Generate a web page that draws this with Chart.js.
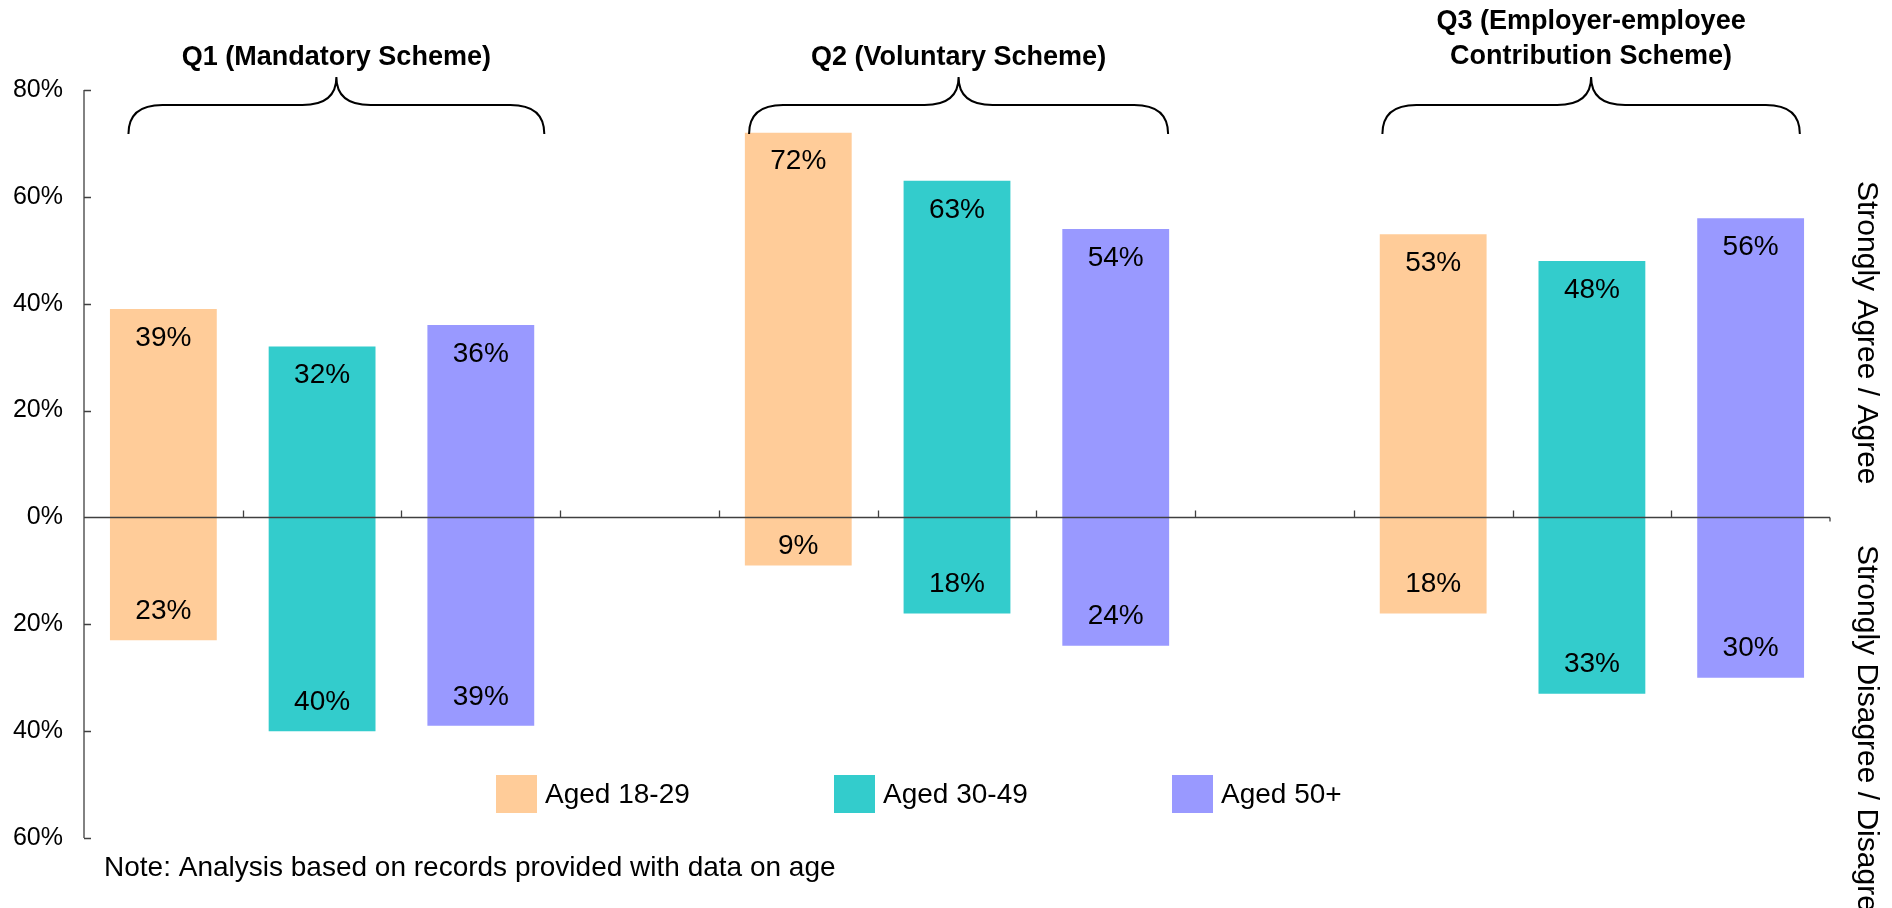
<!DOCTYPE html>
<html lang="en">

<head>
    <meta charset="UTF-8">
    <title>Agreement by Age Group</title>
    <script src="https://cdn.jsdelivr.net/npm/chart.js"></script>
    <style>
        body {
            margin: 0;
            background: #ffffff;
        }

        .chart-container {
            width: 1892px;
            height: 908px;
        }
    </style>
</head>

<body>
    <div class="chart-container">
        <canvas id="ageChart"></canvas>
    </div>

    <script>
        // data
        const questions = ['Q1 (Mandatory Scheme)', 'Q2 (Voluntary Scheme)', ['Q3 (Employer-employee', 'Contribution Scheme)']];
        const ageGroups = ['Aged 18-29', 'Aged 30-49', 'Aged 50+'];
        const agree1829 = [39, 72, 53];
        const agree3049 = [32, 63, 48];
        const agree50 = [36, 54, 56];
        const disagree1829 = [23, 9, 18];
        const disagree3049 = [40, 18, 33];
        const disagree50 = [39, 24, 30];
        const yMin = -60;
        const yMax = 80;
        const yStep = 20;
        const sideTitles = ['Strongly Agree / Agree', 'Strongly Disagree / Disagree'];
        const note = 'Note: Analysis based on records provided with data on age';

        const colors = ['#FFCC99', '#33CCCC', '#9999FF'];
        const agreeSets = [agree1829, agree3049, agree50];
        const disagreeSets = [disagree1829, disagree3049, disagree50];

        // 3 questions x 3 age groups, with an empty slot between questions
        const slots = [];
        questions.forEach(function (q, g) {
            ageGroups.forEach(function (a) { slots.push(a); });
            if (g < questions.length - 1) slots.push('');
        });

        const datasets = ageGroups.map(function (age, a) {
            const data = slots.map(function () { return null; });
            questions.forEach(function (q, g) {
                data[g * 4 + a] = [-disagreeSets[a][g], agreeSets[a][g]];
            });
            return {
                label: age,
                data: data,
                backgroundColor: colors[a],
                borderWidth: 0,
                grouped: false,
                categoryPercentage: 0.673,
                barPercentage: 1
            };
        });

        const FONT = '"Liberation Sans", Arial, sans-serif';

        function drawBrace(ctx, xl, xr, xc) {
            const yEnd = 134, yLine = 105, yTip = 77, r = 34;
            ctx.beginPath();
            ctx.moveTo(xl, yEnd);
            ctx.quadraticCurveTo(xl, yLine, xl + r, yLine);
            ctx.lineTo(xc - r, yLine);
            ctx.quadraticCurveTo(xc, yLine, xc, yTip);
            ctx.quadraticCurveTo(xc, yLine, xc + r, yLine);
            ctx.lineTo(xr - r, yLine);
            ctx.quadraticCurveTo(xr, yLine, xr, yEnd);
            ctx.stroke();
        }

        const extras = {
            id: 'extras',
            afterDatasetsDraw(chart) {
                const ctx = chart.ctx;
                const area = chart.chartArea;
                const x = chart.scales.x;
                const y = chart.scales.y;
                const y0 = y.getPixelForValue(0);
                const catW = (area.right - area.left) / slots.length;

                ctx.save();
                // axes
                ctx.strokeStyle = '#404040';
                ctx.lineWidth = 1.3;
                ctx.beginPath();
                ctx.moveTo(area.left, y.getPixelForValue(yMax));
                ctx.lineTo(area.left, y.getPixelForValue(yMin));
                for (let v = yMin; v <= yMax; v += yStep) {
                    const py = Math.round(y.getPixelForValue(v)) + 0.5;
                    ctx.moveTo(area.left, py);
                    ctx.lineTo(area.left + 7, py);
                }
                ctx.moveTo(area.left, Math.round(y0) + 0.5);
                ctx.lineTo(area.right, Math.round(y0) + 0.5);
                for (let i = 1; i < slots.length; i++) {
                    const px = Math.round(area.left + i * catW) + 0.5;
                    ctx.moveTo(px, y0);
                    ctx.lineTo(px, y0 - 7);
                }
                ctx.moveTo(area.right, y0);
                ctx.lineTo(area.right, y0 + 4);
                ctx.stroke();

                // value labels inside the bar ends
                ctx.fillStyle = '#000';
                ctx.font = '28px ' + FONT;
                ctx.textAlign = 'center';
                ctx.textBaseline = 'middle';
                chart.data.datasets.forEach(function (ds, di) {
                    chart.getDatasetMeta(di).data.forEach(function (bar, i) {
                        const v = ds.data[i];
                        if (!v) return;
                        const top = y.getPixelForValue(v[1]);
                        const bottom = y.getPixelForValue(v[0]);
                        const offTop = Math.min(29, (y0 - top) / 2 - 5);
                        const offBottom = Math.min(29, (bottom - y0) / 2 - 5);
                        ctx.fillText(v[1] + '%', bar.x, top + offTop);
                        ctx.fillText(-v[0] + '%', bar.x, bottom - offBottom);
                    });
                });

                // question braces and titles
                const braceSpans = [[-0.22, 2.4], [3.69, 6.33], [7.68, 10.31]];
                ctx.strokeStyle = '#000';
                ctx.lineWidth = 2;
                ctx.font = 'bold 27px ' + FONT;
                questions.forEach(function (q, g) {
                    const xl = x.getPixelForValue(braceSpans[g][0]);
                    const xr = x.getPixelForValue(braceSpans[g][1]);
                    const xc = (xl + xr) / 2;
                    drawBrace(ctx, xl, xr, xc);
                    if (Array.isArray(q)) {
                        ctx.fillText(q[0], xc, 22);
                        ctx.fillText(q[1], xc, 57);
                    } else {
                        ctx.fillText(q, xc, 58);
                    }
                });

                // legend
                ctx.font = '28px ' + FONT;
                ctx.textAlign = 'left';
                ageGroups.forEach(function (age, a) {
                    const bx = 496 + a * 338;
                    ctx.fillStyle = colors[a];
                    ctx.fillRect(bx, 775, 41, 38);
                    ctx.fillStyle = '#000';
                    ctx.fillText(age, bx + 49, 795);
                });

                // note
                ctx.font = '28px ' + FONT;
                ctx.fillText(note, 104, 868);

                // side titles
                ctx.font = '30px ' + FONT;
                [181, 545].forEach(function (sy, k) {
                    ctx.save();
                    ctx.translate(1866, sy);
                    ctx.rotate(Math.PI / 2);
                    ctx.fillText(sideTitles[k], 0, 0);
                    ctx.restore();
                });
                ctx.restore();
            }
        };

        const ctx = document.getElementById('ageChart').getContext('2d');
        const chart = new Chart(ctx, {
            type: 'bar',
            data: {
                labels: slots,
                datasets: datasets
            },
            options: {
                responsive: true,
                maintainAspectRatio: false,
                animation: false,
                layout: {
                    padding: { left: 0, right: 62, top: 90, bottom: 70 }
                },
                plugins: {
                    legend: { display: false },
                    tooltip: { enabled: false }
                },
                scales: {
                    x: {
                        display: false
                    },
                    y: {
                        min: yMin,
                        max: yMax,
                        afterFit: function (scale) { scale.width = 84; },
                        grid: { display: false },
                        border: { display: false },
                        ticks: {
                            stepSize: yStep,
                            padding: 13,
                            color: '#000',
                            font: { family: FONT, size: 25 },
                            callback: function (v) { return Math.abs(v) + '%'; }
                        }
                    }
                }
            },
            plugins: [extras]
        });
    </script>
</body>

</html>
